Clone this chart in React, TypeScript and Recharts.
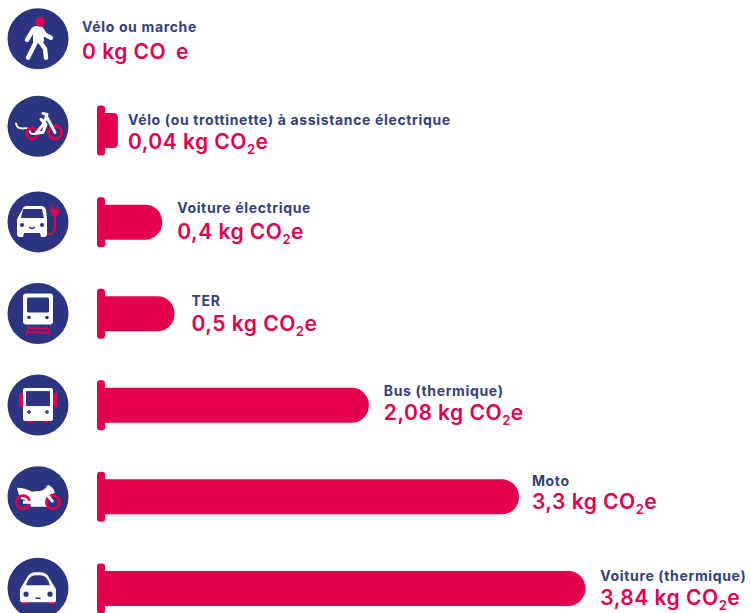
import React from 'react';
import { BarChart, Bar, XAxis, YAxis, LabelList } from 'recharts';

const categories = [
  'Vélo ou marche',
  'Vélo (ou trottinette) à assistance électrique',
  'Voiture électrique',
  'TER',
  'Bus (thermique)',
  'Moto',
  'Voiture (thermique)',
];
const co2Values = [0, 0.04, 0.4, 0.5, 2.08, 3.3, 3.84];
const valueLabels = ['0', '0,04', '0,4', '0,5', '2,08', '3,3', '3,84'];

const data = categories.map((name, i) => ({ name, value: co2Values[i] }));

const PINK = '#e5004f';
const NAVY = '#2b3582';
const LABEL = '#33407f';
const FONT = 'Inter, "Open Sans", sans-serif';

// small per-row shifts of the text blocks, the source isn't quite regular
const labelShift = [
  { dx: 0, nameDy: -7.5, valueDy: 20 },
  { dx: -5, nameDy: -6, valueDy: 18.5 },
  { dx: 0, nameDy: -9.5, valueDy: 17 },
  { dx: 2, nameDy: -8, valueDy: 17.5 },
  { dx: 0, nameDy: -9.5, valueDy: 15 },
  { dx: -2, nameDy: -11, valueDy: 12.5 },
  { dx: 0, nameDy: -7, valueDy: 16.5 },
];
const iconShift = [0, -4, 0, 0, 0, 0, 0];

function ModeIcon({ index }: { index: number }) {
  const white = { fill: '#fff' };
  const line = { fill: 'none', stroke: '#fff', strokeWidth: 4.4, strokeLinecap: 'round' as const, strokeLinejoin: 'round' as const };
  const pinkLine = { fill: 'none', stroke: PINK, strokeWidth: 2.8, strokeLinecap: 'round' as const };
  switch (index) {
    case 0:
      return (
        <g>
          <path d="M-5 -12 Q1 -14 5 -11 L6 3 L-5 4 Z" {...white} />
          <path d="M-5 -9 L-11 1 M4 -9 L7 -4 L13 -1 M-2 3 L-10 19 M2 3 L7 10 L8 19" {...line} />
          <circle cx={2} cy={-17} r={4.8} fill={PINK} />
        </g>
      );
    case 1:
      return (
        <g>
          <path d="M-22 -3 Q-21 3 -14 2 Q-9 1 -8 6 Q-6 9 -2 7" fill="none" stroke="#fff" strokeWidth={1.8} strokeLinecap="round" />
          <circle cx={-6} cy={7} r={5.4} {...pinkLine} strokeWidth={3} />
          <circle cx={17} cy={6} r={6.6} {...pinkLine} strokeWidth={3} />
          <path d="M-2 7 L6 -3 L9 -12 M3 -7 L8 -2 L5 6 L-2 7 M8 -12 L5 -13 M9 -9 L17 6" fill="none" stroke="#fff" strokeWidth={3} strokeLinecap="round" strokeLinejoin="round" />
        </g>
      );
    case 2:
      return (
        <g>
          <path d="M17 -5 L17 6 Q16 13 10 12 Q6 11 7 7" fill="none" stroke={PINK} strokeWidth={2} />
          <path d="M-16 -12 Q-15 -16 -11 -16 L3 -16 Q7 -16 8 -12 L9 -3 L9 12 Q9 15 6 15 L3 15 L2 11 L-14 11 L-15 15 L-18 15 Q-21 15 -21 12 L-21 -3 Z" {...white} />
          <path d="M-15 -13 L4 -13 L6 -4 L-17 -4 Z" fill={NAVY} />
          <circle cx={-16} cy={3} r={2} fill={NAVY} />
          <circle cx={4} cy={3} r={2} fill={NAVY} />
          <path d="M-9 5 Q-6 8 -3 5" fill="none" stroke={NAVY} strokeWidth={1.4} />
          <path d="M13 -12 L21 -12 L20 -8 Q17 -3 14 -8 Z M14.5 -17 L14.5 -12 M19.5 -17 L19.5 -12" fill={PINK} stroke={PINK} strokeWidth={1.4} />
        </g>
      );
    case 3:
      return (
        <g>
          <rect x={-15} y={-20} width={30} height={31} rx={3} {...white} />
          <rect x={-11} y={-16} width={22} height={15} rx={1.5} fill={NAVY} />
          <circle cx={-9} cy={4} r={1.8} fill={NAVY} />
          <circle cx={9} cy={4} r={1.8} fill={NAVY} />
          <path d="M-9 13 L-12 22 M9 13 L12 22 M-10 15 L10 15 M-12 19 L12 19" fill="none" stroke={PINK} strokeWidth={1.7} />
        </g>
      );
    case 4:
      return (
        <g>
          <rect x={-19} y={-12} width={4} height={14} rx={1} fill={PINK} />
          <rect x={15} y={-12} width={4} height={14} rx={1} fill={PINK} />
          <rect x={-11} y={13} width={7} height={5} rx={2.5} fill={PINK} />
          <rect x={5} y={13} width={7} height={5} rx={2.5} fill={PINK} />
          <rect x={-15} y={-17} width={30} height={33} rx={2} {...white} />
          <rect x={-12} y={-14} width={24} height={15} fill={NAVY} />
          <path d="M-11 7 L-7 7 M-9 5 L-9 9 M7 7 L11 7 M9 5 L9 9" stroke={NAVY} strokeWidth={1.4} />
        </g>
      );
    case 5:
      return (
        <g>
          <path d="M-21 -9 Q-13 -9 -6 -5 L3 -6 Q7 -7 10 -12 Q15 -10 17 -4 L10 -1 L10 10 L-7 10 L-9 5 L-17 2 Q-20 -3 -21 -9 Z" {...white} />
          <circle cx={-15} cy={5.5} r={6.6} {...pinkLine} />
          <circle cx={15} cy={5.5} r={6.6} {...pinkLine} />
          <path d="M-15 5.5 L-6 5.5 M10 -1 L15 5.5" stroke="#fff" strokeWidth={3} />
        </g>
      );
    default:
      return (
        <g>
          <rect x={-17} y={11} width={7} height={5} rx={2.5} fill={PINK} />
          <rect x={10} y={11} width={7} height={5} rx={2.5} fill={PINK} />
          <path d="M-12 -9 Q-9 -16 -3 -16 L3 -16 Q9 -16 12 -9 L18 1 L18 12 Q18 14 16 14 L-16 14 Q-18 14 -18 12 L-18 1 Z" {...white} />
          <path d="M-12 -3 Q-9 -13 -3 -13 L3 -13 Q9 -13 12 -3 Z" fill={NAVY} />
          <circle cx={-12} cy={6} r={2.6} fill={NAVY} />
          <circle cx={12} cy={6} r={2.6} fill={NAVY} />
          <path d="M-2 10 L2 10" stroke={NAVY} strokeWidth={1.4} strokeLinecap="round" />
        </g>
      );
  }
}

function IconTick(props: any) {
  const { y, index } = props;
  return (
    <g transform={`translate(38 ${y + iconShift[index]})`}>
      <circle r={30.5} fill={NAVY} />
      <ModeIcon index={index} />
    </g>
  );
}

// flange at the base + a round-ended body, like a little test tube
function FlangedBar(props: any) {
  const { x, y, width, height, value } = props;
  if (!value) return null;
  const cy = y + height / 2;
  const left = x - 8;
  const end = x + width;
  const half = 17.5;
  const r = Math.min(17, (end - left) / 3);
  return (
    <g fill={PINK}>
      <rect x={x - 16} y={cy - 25} width={8} height={50} rx={3} />
      <path d={`M${left} ${cy - half} L${end - r} ${cy - half} A${r} ${r} 0 0 1 ${end} ${cy - half + r} L${end} ${cy + half - r} A${r} ${r} 0 0 1 ${end - r} ${cy + half} L${left} ${cy + half} Z`} />
    </g>
  );
}

function RowLabel(props: any) {
  const { x, y, width, height, index } = props;
  const cy = y + height / 2;
  const shift = labelShift[index];
  const tx = (co2Values[index] === 0 ? 82 : x + width + 15) + shift.dx;
  return (
    <g fontFamily={FONT}>
      <text x={tx} y={cy + shift.nameDy} fontSize={14} fontWeight={700} letterSpacing={0.65} fill={LABEL}>
        {categories[index]}
      </text>
      <text x={tx} y={cy + shift.valueDy} fontSize={21} fontWeight={600} letterSpacing={0.5} fill={PINK}>
        {valueLabels[index]} kg CO
        {co2Values[index] === 0 ? (
          <tspan dx={4}> e</tspan>
        ) : (
          <>
            <tspan fontSize={13} dy={5}>2</tspan>
            <tspan dy={-5}>e</tspan>
          </>
        )}
      </text>
    </g>
  );
}

export default function App() {
  return (
    <div style={{ position: 'absolute', left: 0, top: 0, width: 751, height: 613, overflow: 'hidden', background: '#fff' }}>
      <div style={{ position: 'absolute', left: 0, top: -7 }}>
        <BarChart
          layout="vertical"
          width={751}
          height={641}
          data={data}
          margin={{ top: 0, right: 0, bottom: 0, left: 0 }}
          barCategoryGap={28}
        >
          <XAxis type="number" hide domain={[0, 5.187]} />
          <YAxis type="category" dataKey="name" width={113} axisLine={false} tickLine={false} tick={<IconTick />} interval={0} />
          <Bar dataKey="value" shape={<FlangedBar />} isAnimationActive={false}>
            <LabelList dataKey="value" content={<RowLabel />} />
          </Bar>
        </BarChart>
      </div>
    </div>
  );
}
